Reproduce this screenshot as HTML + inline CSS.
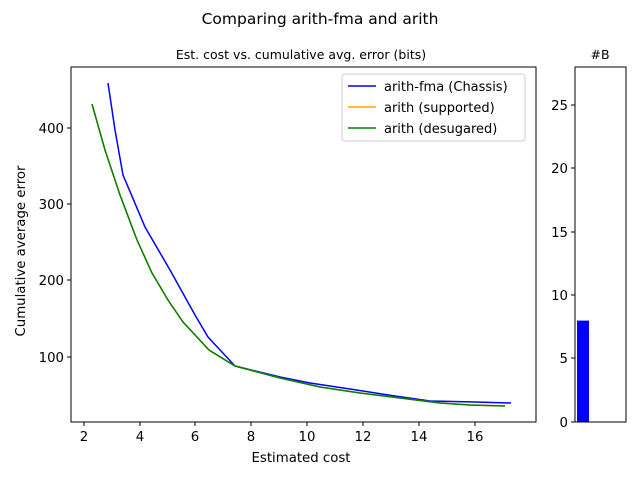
<!DOCTYPE html>
<html><head><style>body{margin:0;background:#fff}svg text{font-family:"DejaVu Sans","Liberation Sans",sans-serif}</style></head><body>
<svg width="640" height="480" xmlns="http://www.w3.org/2000/svg">
<rect width="640" height="480" fill="#fff"/>
<text x="320" y="24" font-size="15.5" text-anchor="middle">Comparing arith-fma and arith</text>
<text x="301" y="59" font-size="12.5" text-anchor="middle">Est. cost vs. cumulative avg. error (bits)</text>
<text x="600" y="59" font-size="12.5" text-anchor="middle">#B</text>
<g stroke="#000" stroke-width="1">
<line x1="84" y1="422" x2="84" y2="426"/><line x1="140" y1="422" x2="140" y2="426"/><line x1="195" y1="422" x2="195" y2="426"/><line x1="251" y1="422" x2="251" y2="426"/><line x1="307" y1="422" x2="307" y2="426"/><line x1="363" y1="422" x2="363" y2="426"/><line x1="419" y1="422" x2="419" y2="426"/><line x1="475" y1="422" x2="475" y2="426"/>
<line x1="67" y1="128" x2="71" y2="128"/><line x1="67" y1="204" x2="71" y2="204"/><line x1="67" y1="280" x2="71" y2="280"/><line x1="67" y1="357" x2="71" y2="357"/>
<line x1="571" y1="422" x2="575" y2="422"/><line x1="571" y1="358" x2="575" y2="358"/><line x1="571" y1="295" x2="575" y2="295"/><line x1="571" y1="232" x2="575" y2="232"/><line x1="571" y1="168" x2="575" y2="168"/><line x1="571" y1="105" x2="575" y2="105"/>
</g>
<g font-size="13.3" text-anchor="middle">
<text x="84" y="441">2</text><text x="140" y="441">4</text><text x="195" y="441">6</text><text x="251" y="441">8</text><text x="307" y="441">10</text><text x="363" y="441">12</text><text x="419" y="441">14</text><text x="475" y="441">16</text>
</g>
<g font-size="13.3" text-anchor="end">
<text x="64" y="133">400</text><text x="64" y="209">300</text><text x="64" y="285">200</text><text x="64" y="362">100</text>
<text x="568" y="427">0</text><text x="568" y="363">5</text><text x="568" y="300">10</text><text x="568" y="237">15</text><text x="568" y="173">20</text><text x="568" y="110">25</text>
</g>
<text x="301" y="462" font-size="13.3" text-anchor="middle">Estimated cost</text>
<text x="25" y="251" font-size="13.3" text-anchor="middle" transform="rotate(-90 25 251)">Cumulative average error</text>
<polyline fill="none" stroke="#0000ff" stroke-width="1.5" points="108,83 115,130 123,175 145,227 170,270 195,315 208,337 235,366 280,377 310,383 350,389 395,396 430,401 475,402 511,403"/>
<polyline fill="none" stroke="#ffa500" stroke-width="1.5" points="92,104 105,150 120,195 137,240 152,273 168,300 183,322 209,350 235,366 280,378 320,387 360,393 400,398 440,403 470,405 505,406"/>
<polyline fill="none" stroke="#008000" stroke-width="1.5" points="92,104 105,150 120,195 137,240 152,273 168,300 183,322 209,350 235,366 280,378 320,387 360,393 400,398 440,403 470,405 505,406"/>
<rect x="577" y="320.6" width="12" height="101.4" fill="#0000ff"/>
<rect x="71" y="67" width="465" height="355" fill="none" stroke="#000"/>
<rect x="575" y="67" width="51" height="355" fill="none" stroke="#000"/>
<rect x="342" y="74" width="183" height="67" rx="3" fill="#fff" fill-opacity="0.8" stroke="#ccc"/>
<line x1="348" y1="86" x2="376" y2="86" stroke="#0000ff" stroke-width="1.5"/>
<line x1="348" y1="107" x2="376" y2="107" stroke="#ffa500" stroke-width="1.5"/>
<line x1="348" y1="128" x2="376" y2="128" stroke="#008000" stroke-width="1.5"/>
<g font-size="13"><text x="384" y="91">arith-fma (Chassis)</text><text x="384" y="112">arith (supported)</text><text x="384" y="133">arith (desugared)</text></g>
</svg>
</body></html>
